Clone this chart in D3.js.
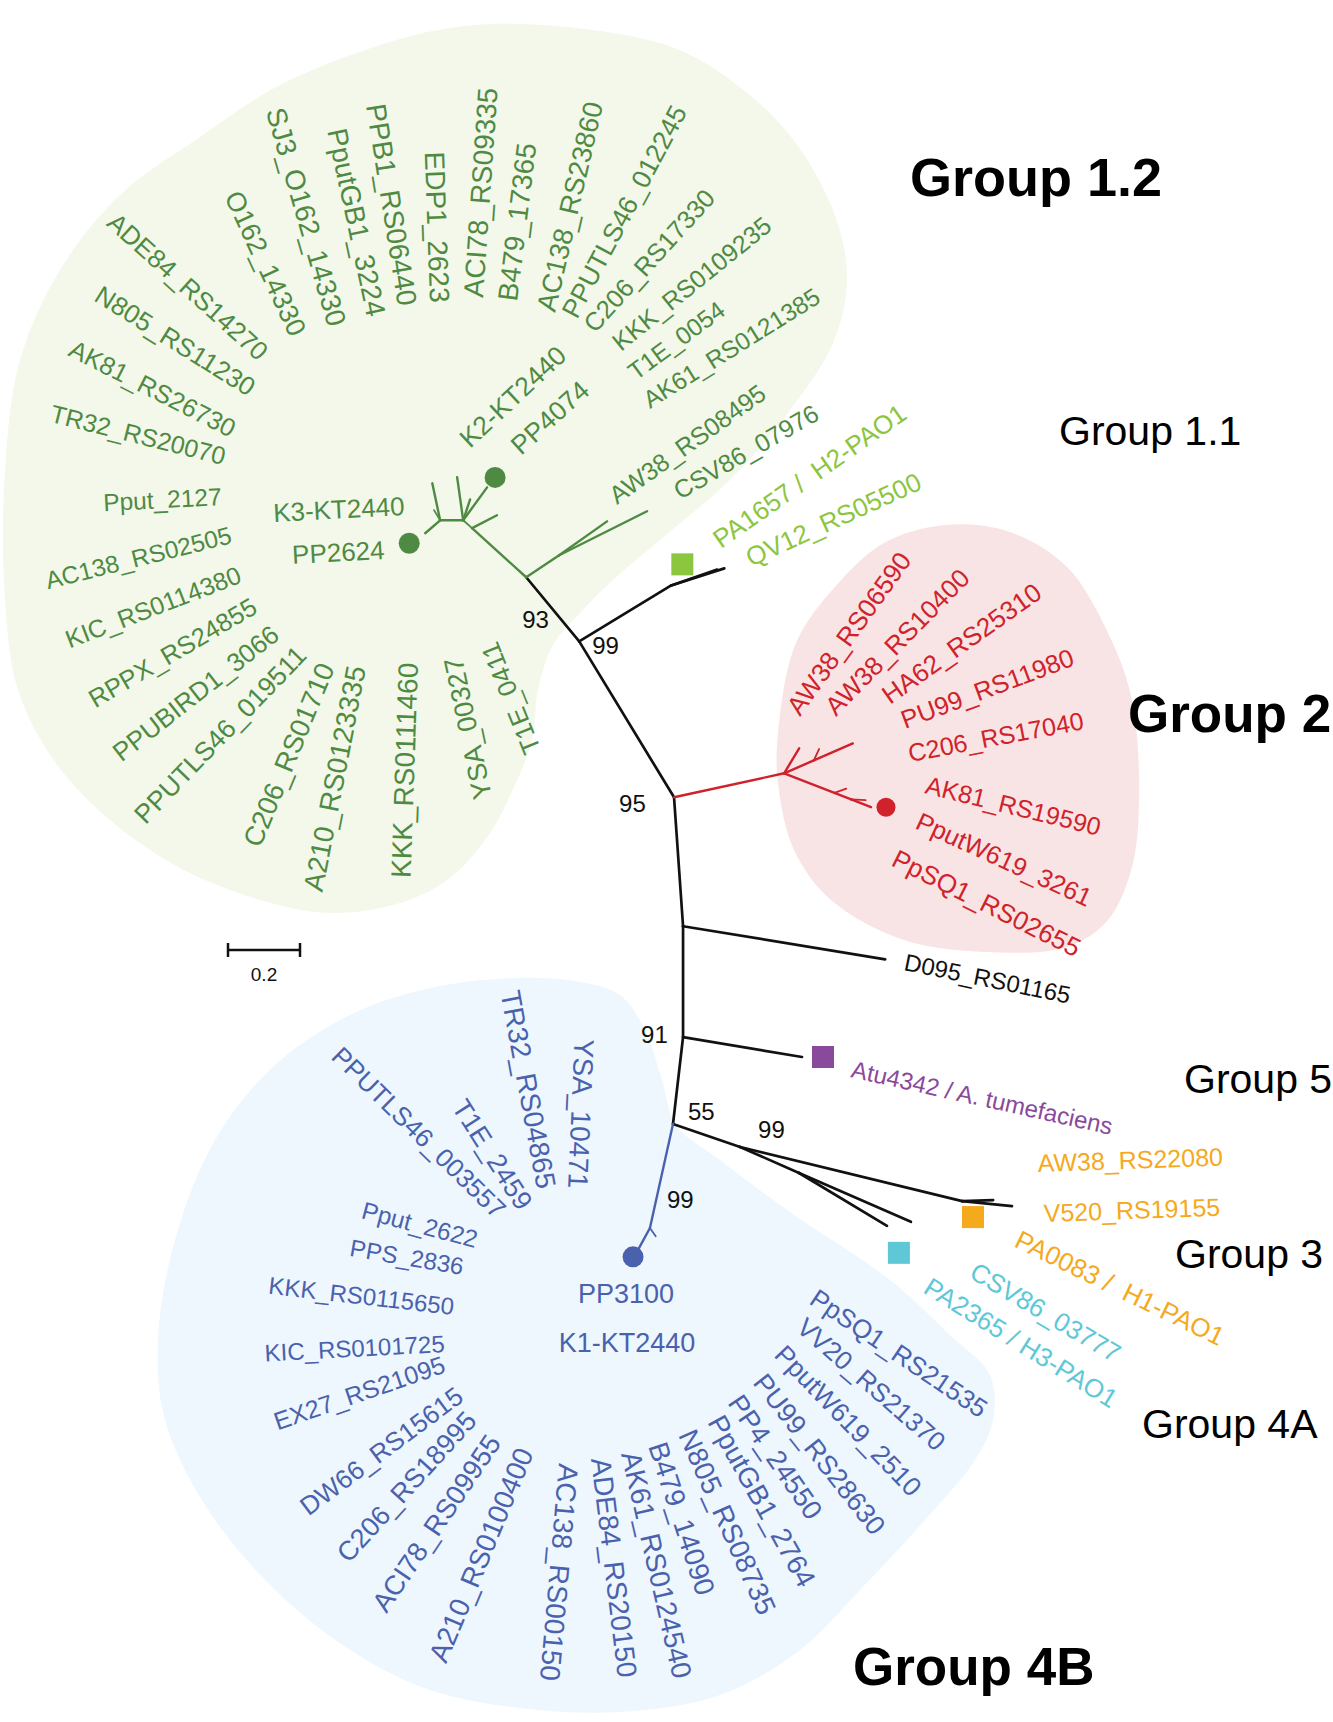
<!DOCTYPE html>
<html>
<head>
<meta charset="utf-8">
<script src="https://cdn.jsdelivr.net/npm/d3@7"></script>
<style>
  html, body { margin: 0; padding: 0; background: #fff; }
  svg { display: block; }
  text { font-family: "Liberation Sans", Arial, Helvetica, sans-serif; white-space: pre; }
</style>
</head>
<body>
<svg id="chart" width="1333" height="1722"></svg>
<script>
// ---------------- data ----------------
// Gene names per clade
const group12Genes = ["ADE84_RS14270","N805_RS11230","AK81_RS26730","TR32_RS20070","Pput_2127",
  "AC138_RS02505","KIC_RS0114380","RPPX_RS24855","PPUBIRD1_3066","PPUTLS46_019511","C206_RS01710",
  "A210_RS0123335","KKK_RS0111460","YSA_00327","T1E_0411","K3-KT2440","PP2624","O162_14330",
  "SJ3_O162_14330","PputGB1_3224","PPB1_RS06440","EDP1_2623","ACI78_RS09335","B479_17365",
  "AC138_RS23860","PPUTLS46_012245","C206_RS17330","KKK_RS0109235","T1E_0054","AK61_RS0121385",
  "K2-KT2440","PP4074","AW38_RS08495","CSV86_07976"];
const group11Genes = ["PA1657 /  H2-PAO1","QV12_RS05500"];
const group2Genes = ["AW38_RS06590","AW38_RS10400","HA62_RS25310","PU99_RS11980","C206_RS17040",
  "AK81_RS19590","PputW619_3261","PpSQ1_RS02655"];
const outgroupGenes = ["D095_RS01165"];
const group5Genes = ["Atu4342 / A. tumefaciens"];
const group3Genes = ["AW38_RS22080","V520_RS19155","PA0083 /  H1-PAO1"];
const group4AGenes = ["CSV86_03777","PA2365 / H3-PAO1"];
const group4BGenes = ["PPUTLS46_003557","T1E_2459","TR32_RS04865","YSA_10471","Pput_2622","PPS_2836",
  "KKK_RS0115650","KIC_RS0101725","EX27_RS21095","DW66_RS15615","C206_RS18995","ACI78_RS09955",
  "A210_RS0100400","AC138_RS00150","ADE84_RS20150","AK61_RS0124540","B479_14090","N805_RS08735",
  "PputGB1_2764","PP4_24550","PU99_RS28630","PputW619_2510","VV20_RS21370","PpSQ1_RS21535",
  "PP3100","K1-KT2440"];
const groupNames = ["Group 1.2","Group 1.1","Group 2","Group 5","Group 3","Group 4A","Group 4B"];

// Tree topology and branch lengths (substitutions per site)
const branchFrom   = ["n55","n91","nD","n95","n99","n99","g11","g11","n93","gAW","gAW","n93","gS","gS",
  "g0","g0","g0","g0","gL","gL","gL","n95","r0","r0","rU1","rU1","r0","rD1","rD1","rD2","rD2",
  "nD","n91","n55","n99b","n3","n3","n99b","n4a","n4a","n55","b0","b0"];
const branchTo     = ["n91","nD","n95","n99","n93","g11","tPA1657","tQV12","gAW","tAW38a","tCSV86a","gS","g0","tS",
  "tV2","tV3","tPP4074","gL","tV1","tTw","tPP2624","r0","rTwA","rU1","rUp","rTwU","rD1","rD2","rTwD1","tW619","rTwD2",
  "tD095","tAtu","n99b","n3","tAW38c","tV520","n4a","tCSV86c","tPA2365","b0","tPP3100","bTw"];
const branchLength = [0.243,0.308,0.359,0.507,0.231,0.299,0.155,0.135,0.110,0.163,0.273,0.203,0.033,0.078,
  0.121,0.061,0.113,0.064,0.105,0.033,0.055,0.313,0.081,0.090,0.118,0.035,0.150,0.050,0.035,0.059,0.040,
  0.569,0.335,0.197,0.635,0.086,0.139,0.179,0.339,0.285,0.296,0.069,0.028];

// Bootstrap support
const bootstrapNodes  = ["n93","n99","n95","n91","n55","n99b","b0"];
const bootstrapValues = [93,99,95,91,55,99,99];
const scaleBarValue = 0.2;

// ---------------- layout ----------------
const rootAt = [673, 1124];
// drawing angle of every branch (degrees, clockwise from east)
const branchAngle = [-83.4,-90,-94,-121.3,-129.6,-31.3,-17.8,-19,-33.7,-35.3,-26.6,-137.8,-138.4,-27.5,
  -98,-71.6,-54,180,-102,-121,139,-12.3,-59,-23.5,-23.5,-65,21.3,21.3,-20,21.3,3,
  9.3,9.5,18.9,13.7,-2,5.7,23.8,23.6,31,102.5,118.6,55];

// label anchor [x, y, rotation, anchor, font size]
const group12Layout = [[258,362,42,"e",26],[248,397,32,"e",26],[230,438,27,"e",25.5],[223,465,14,"e",25],
  [222,505,-3,"e",24.5],[233,543,-14,"e",24.5],[243,582,-21,"e",25],[259,612,-30.5,"e",25.5],
  [281,638,-38,"e",26],[308,657,-46,"e",26.5],[335,668,-67.5,"e",27.5],[366,668,-79,"e",28],
  [418,663,-88,"e",28],[462,656,-102,"e",27],[497,640,-112,"e",26],[405,515,-3,"e",26],[385,559,-3,"e",26],
  [290,338,65,"e",27],[328,328,74,"e",28],[367,318,78,"e",28],[398,307,81,"e",28],[430,303,88,"e",28],
  [483,298,-86,"s",28],[517,302,-83,"s",28],[555,313,-77,"s",27.5],[577,320,-62,"s",26.5],
  [595,334,-48,"s",25.5],[621,352,-39,"s",25],[636,381,-36.5,"s",24.5],[650,409,-32,"s",24.5],
  [470,449,-43,"s",26.5],[521,456,-42,"s",26.5],[617,505,-35.5,"s",25],[680,500,-30,"s",25]];
const group11Layout = [[721,549,-35,"s",26],[751,567,-24.5,"s",26]];
const group2Layout = [[800,717,-54.3,"s",26],[836,717,-45.4,"s",26],[890,705,-35.2,"s",26],
  [905,729,-20.6,"s",25.5],[910,762,-10.7,"s",25],[924,793,13.8,"s",25],[914,828,24.6,"s",25.5],
  [890,865,26.6,"s",26]];
const outgroupLayout = [[903,970,11.5,"s",24]];
const group5Layout = [[850,1077,12.5,"s",24]];
const group3Layout = [[1038,1172,-2,"s",25],[1044,1222,-2,"s",25],[1013,1246,26,"s",26]];
const group4ALayout = [[968,1277,30.6,"s",26],[922,1292,31.8,"s",26]];
const group4BLayout = [[495,1220,44.5,"e",26],[518,1212,57.5,"e",27],[537,1190,79.5,"e",28],
  [568,1188,92.5,"e",28],[475,1248,14.7,"e",24.5],[462,1275,9.6,"e",24],[453,1315,6.6,"e",24],
  [445,1352,-3,"e",24],[447,1372,-19,"e",25],[465,1400,-36.7,"e",26],[478,1422,-47.7,"e",27],
  [502,1443,-56,"e",27.5],[534,1453,-67.4,"e",28],[559,1463,95,"s",28],[591,1459,83,"s",28],
  [621,1454,77,"s",28],[648,1446,72,"s",28],[678,1435,66,"s",28],[707,1422,61,"s",28],
  [727,1403,55.6,"s",27.5],[752,1383,52,"s",27],[773,1356,46,"s",26.5],[795,1330,41,"s",26],
  [808,1303,34,"s",26],[626,1303,0,"m",27],[627,1352,0,"m",27]];
const groupLayout = [[910,196,"bold",54],[1059,445,"normal",41],[1128,732,"bold",53],[1184,1093,"normal",41],
  [1175,1268,"normal",41],[1142,1438,"normal",41],[853,1685,"bold",53]];
const bootstrapOffset = [[-4,51],[13,13],[-55,15],[-42,6],[15,-4],[18,-9],[17,-20]];
const scaleBarAt = [228, 950];

// clade shading outlines
const greenHull = [[520,24],[640,38],[700,60],[783,127],[833,210],[847,280],[833,343],[790,410],[733,477],
  [660,540],[613,580],[580,613],[553,645],[538,690],[532,740],[515,785],[490,833],[450,878],[400,903],
  [330,913],[260,900],[180,868],[110,820],[55,762],[18,690],[5,600],[5,470],[20,360],[60,270],[120,195],
  [200,137],[280,85],[380,45],[450,28]];
const redHull = [[945,525],[1010,532],[1067,567],[1108,633],[1132,700],[1139,800],[1132,867],[1108,920],
  [1067,947],[986,952],[904,940],[831,900],[794,850],[778,783],[778,733],[796,643],[835,587],[884,543]];
const blueHull = [[517,978],[580,982],[620,995],[645,1030],[662,1080],[676,1125],[720,1160],[790,1212],
  [890,1280],[950,1335],[990,1375],[993,1420],[975,1460],[925,1520],[860,1590],[800,1650],[720,1695],
  [620,1712],[520,1708],[430,1690],[350,1650],[270,1585],[205,1505],[165,1420],[158,1340],[175,1240],
  [215,1140],[275,1065],[350,1015],[430,988]];

// markers: [tip node, shape, colour key, dx, dy, size]
const markers = [["tPP4074","circle","g",8,-10,10.5],["tPP2624","circle","g",-16,10,10.5],
  ["tW619","circle","r",15,0,9.5],["tPP3100","circle","b",-5,7,10.5],
  ["tPA1657","square","lg",-42,-4,22],["tAtu","square","p",21,0,22],
  ["tV520","square","o",-39,11,22],["tCSV86c","square","c",-12,31,22]];

// ---------------- styles ----------------
const COLOR = { k:"#111111", g:"#4f8a43", lg:"#8cc63f", r:"#d0222b", b:"#4a62ad",
  o:"#f5a91d", c:"#5ec8d7", p:"#8a4a9c" };
const FILL = { g:"#f3f8ea", r:"#f8e4e5", b:"#eef7fd" };
const cladeStart = { n93:"g", r0:"r", b0:"b" };
const stemColor = { n93:"k" };

// ---------------- drawing ----------------
const svg = d3.select("#chart");
const len = d3.scaleLinear().domain([0, 1]).range([0, 360]);

// clade shading
const hull = d3.line().curve(d3.curveCatmullRomClosed.alpha(0.5));
svg.append("path").attr("d", hull(greenHull)).attr("fill", FILL.g);
svg.append("path").attr("d", hull(redHull)).attr("fill", FILL.r);
svg.append("path").attr("d", hull(blueHull)).attr("fill", FILL.b);

// node positions from branch lengths
const pos = { n55: rootAt };
const nodeColor = { n55: "k" };
const edges = branchFrom.map((from, i) => {
  const to = branchTo[i];
  const p = pos[from];
  const a = branchAngle[i] * Math.PI / 180;
  const r = len(branchLength[i]);
  pos[to] = [p[0] + r * Math.cos(a), p[1] + r * Math.sin(a)];
  nodeColor[to] = cladeStart[to] || nodeColor[from];
  return { from, to, length: branchLength[i], color: stemColor[to] || nodeColor[to] };
});

svg.append("g").attr("stroke-linecap", "round").selectAll("line").data(edges).join("line")
  .attr("x1", d => pos[d.from][0]).attr("y1", d => pos[d.from][1])
  .attr("x2", d => pos[d.to][0]).attr("y2", d => pos[d.to][1])
  .attr("stroke", d => COLOR[d.color])
  .attr("stroke-width", d => d.length < 0.045 ? 1.8 : (d.color === "k" ? 2.7 : 2.4));

// markers
const mk = svg.append("g");
markers.forEach(([node, shape, col, dx, dy, s]) => {
  const [x, y] = [pos[node][0] + dx, pos[node][1] + dy];
  if (shape === "circle") {
    mk.append("circle").attr("cx", x).attr("cy", y).attr("r", s).attr("fill", COLOR[col]);
  } else {
    mk.append("rect").attr("x", x - s / 2).attr("y", y - s / 2).attr("width", s).attr("height", s)
      .attr("fill", COLOR[col]);
  }
});

// bootstrap values
svg.append("g").selectAll("text").data(bootstrapValues).join("text")
  .attr("x", (d, i) => pos[bootstrapNodes[i]][0] + bootstrapOffset[i][0])
  .attr("y", (d, i) => pos[bootstrapNodes[i]][1] + bootstrapOffset[i][1])
  .attr("font-size", 24).attr("fill", "#111").text(d => d);

// gene labels
const ANCHOR = { s: "start", e: "end", m: "middle" };
function drawLabels(names, layout, colorKey) {
  svg.append("g").selectAll("text").data(names).join("text")
    .attr("transform", (d, i) => `translate(${layout[i][0]},${layout[i][1]}) rotate(${layout[i][2]})`)
    .attr("text-anchor", (d, i) => ANCHOR[layout[i][3]])
    .attr("font-size", (d, i) => layout[i][4])
    .attr("fill", COLOR[colorKey])
    .text(d => d);
}
drawLabels(group12Genes, group12Layout, "g");
drawLabels(group11Genes, group11Layout, "lg");
drawLabels(group2Genes, group2Layout, "r");
drawLabels(outgroupGenes, outgroupLayout, "k");
drawLabels(group5Genes, group5Layout, "p");
drawLabels(group3Genes, group3Layout, "o");
drawLabels(group4AGenes, group4ALayout, "c");
drawLabels(group4BGenes, group4BLayout, "b");

// group names
svg.append("g").selectAll("text").data(groupNames).join("text")
  .attr("x", (d, i) => groupLayout[i][0]).attr("y", (d, i) => groupLayout[i][1])
  .attr("font-weight", (d, i) => groupLayout[i][2])
  .attr("font-size", (d, i) => groupLayout[i][3])
  .attr("fill", "#000").text(d => d);

// scale bar
const sb = svg.append("g").attr("stroke", "#111").attr("stroke-width", 2.5);
const sbLen = len(scaleBarValue);
sb.append("line").attr("x1", scaleBarAt[0]).attr("x2", scaleBarAt[0] + sbLen)
  .attr("y1", scaleBarAt[1]).attr("y2", scaleBarAt[1]);
[0, sbLen].forEach(o => sb.append("line").attr("x1", scaleBarAt[0] + o).attr("x2", scaleBarAt[0] + o)
  .attr("y1", scaleBarAt[1] - 7).attr("y2", scaleBarAt[1] + 7));
svg.append("text").attr("x", scaleBarAt[0] + sbLen / 2).attr("y", scaleBarAt[1] + 31)
  .attr("text-anchor", "middle").attr("font-size", 19).attr("fill", "#111").text(scaleBarValue);
</script>
</body>
</html>
